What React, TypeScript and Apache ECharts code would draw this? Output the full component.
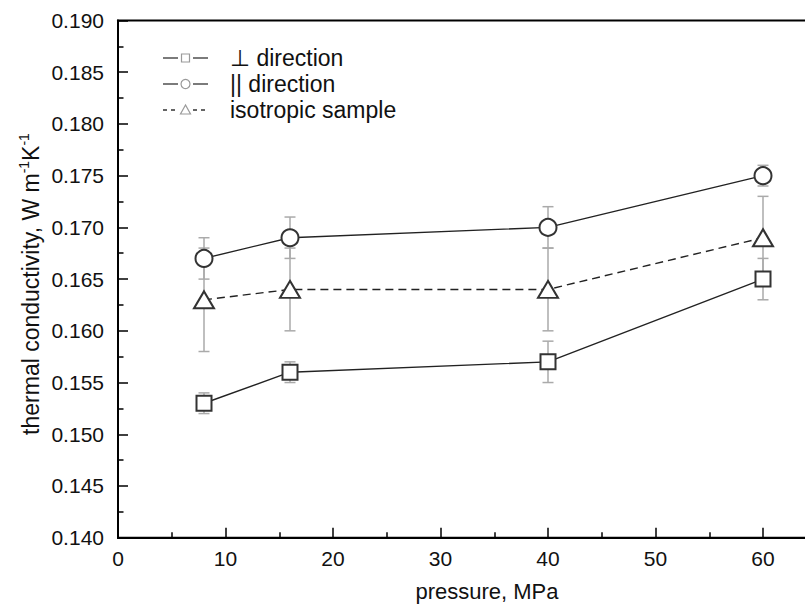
import React, { useEffect, useRef } from "react";
import * as echarts from "echarts";

// Data
const pressure = [8, 16, 40, 60];
const perpValues = [0.153, 0.156, 0.157, 0.165];
const perpErr = [0.001, 0.001, 0.002, 0.002];
const parValues = [0.167, 0.169, 0.17, 0.175];
const parErr = [0.002, 0.002, 0.002, 0.001];
const isoValues = [0.163, 0.164, 0.164, 0.169];
const isoErr = [0.005, 0.004, 0.004, 0.004];
const seriesNames = ["⊥ direction", "|| direction", "isotropic sample"];
const xTitle = "pressure, MPa";

const FONT = "Liberation Sans, Arial, Helvetica, sans-serif";

function pts(vals: number[]) {
  return pressure.map((p, i) => [p, vals[i]]);
}
function errs(vals: number[], e: number[]) {
  return pressure.map((p, i) => [p, vals[i] - e[i], vals[i] + e[i]]);
}

function errorSeries(data: number[][], color: string) {
  return {
    type: "custom",
    z: 1,
    silent: true,
    data,
    encode: { x: 0, y: [1, 2] },
    renderItem: (params: any, api: any) => {
      const x = api.value(0);
      const lo = api.coord([x, api.value(1)]);
      const hi = api.coord([x, api.value(2)]);
      const w = 5.5;
      const style = { stroke: color, lineWidth: 1.5 };
      return {
        type: "group",
        children: [
          { type: "line", shape: { x1: lo[0], y1: lo[1], x2: hi[0], y2: hi[1] }, style },
          { type: "line", shape: { x1: lo[0] - w, y1: lo[1], x2: lo[0] + w, y2: lo[1] }, style },
          { type: "line", shape: { x1: hi[0] - w, y1: hi[1], x2: hi[0] + w, y2: hi[1] }, style },
        ],
      };
    },
  };
}

export default function App() {
  const ref = useRef<HTMLDivElement>(null);
  useEffect(() => {
    if (!ref.current) return;
    const chart = echarts.init(ref.current, undefined, { renderer: "svg" });
    const lineColor = "#222";
    const symColor = "#333";
    const legendSym = "#9a9a9a";
    const rows = [58, 84, 110];
    const legendGraphics: any[] = [];
    rows.forEach((y, i) => {
      const dashed = i === 2;
      const ls: any = { stroke: "#333", lineWidth: 1.3 };
      if (dashed) ls.lineDash = [4, 4];
      legendGraphics.push({ type: "line", shape: { x1: 163, y1: y, x2: 178, y2: y }, style: ls });
      legendGraphics.push({ type: "line", shape: { x1: 193, y1: y, x2: 208, y2: y }, style: ls });
      const ss = { fill: "none", stroke: legendSym, lineWidth: 1.2 };
      if (i === 0) legendGraphics.push({ type: "rect", shape: { x: 181.5, y: y - 4, width: 8, height: 8 }, style: ss });
      if (i === 1) legendGraphics.push({ type: "circle", shape: { cx: 185.5, cy: y, r: 4.5 }, style: ss });
      if (i === 2)
        legendGraphics.push({
          type: "polygon",
          shape: { points: [[185.5, y - 5], [180.5, y + 4], [190.5, y + 4]] },
          style: ss,
        });
      legendGraphics.push({
        type: "text",
        x: 230,
        y,
        style: {
          text: seriesNames[i],
          fontSize: 23,
          fontFamily: FONT,
          fill: "#111",
          verticalAlign: "middle",
          align: "left",
        },
      });
    });

    const lineSeries = (name: string, data: number[][], symbol: string, size: any, dashed: boolean) => ({
      type: "line",
      name,
      z: 3,
      data,
      symbol,
      symbolSize: size,
      showAllSymbol: true,
      itemStyle: { color: symColor, borderWidth: 1.5 },
      lineStyle: { color: lineColor, width: 1.4, type: dashed ? [8, 5] : "solid" },
      emphasis: { disabled: true },
    });

    chart.setOption({
      animation: false,
      backgroundColor: "#fff",
      grid: {
        left: 118,
        top: 20.5,
        right: 9.5,
        bottom: 74.3,
        containLabel: false,
        outerBoundsMode: "none",
        show: true,
        borderColor: "#000",
        borderWidth: 2,
      },
      xAxis: {
        type: "value",
        min: 0,
        max: 70,
        interval: 10,
        axisLine: { show: true, onZero: false, lineStyle: { color: "#000", width: 2 } },
        axisTick: { show: true, inside: true, length: 10, lineStyle: { color: "#000", width: 1.5 } },
        minorTick: { show: true, splitNumber: 2, length: 5.5, lineStyle: { color: "#000", width: 1.5 } },
        splitLine: { show: false },
        axisLabel: {
          margin: 10,
          fontSize: 21,
          fontFamily: FONT,
          color: "#111",
          showMaxLabel: false,
          formatter: (v: number) => (v > 60 ? "" : String(v)),
        },
      },
      yAxis: {
        type: "value",
        min: 0.14,
        max: 0.19,
        interval: 0.005,
        axisLine: { show: true, onZero: false, lineStyle: { color: "#000", width: 2 } },
        axisTick: { show: true, inside: true, length: 10, lineStyle: { color: "#000", width: 1.5 } },
        minorTick: { show: true, splitNumber: 2, length: 5.5, lineStyle: { color: "#000", width: 1.5 } },
        splitLine: { show: false },
        axisLabel: {
          margin: 14,
          fontSize: 21,
          fontFamily: FONT,
          color: "#111",
          formatter: (v: number) => v.toFixed(3),
        },
      },
      graphic: [
        ...legendGraphics,
        {
          type: "text",
          x: 487,
          y: 591,
          style: {
            text: xTitle,
            fontSize: 22,
            fontFamily: FONT,
            fill: "#111",
            align: "center",
            verticalAlign: "middle",
          },
        },
        {
          type: "text",
          x: 31,
          y: 284,
          rotation: Math.PI / 2,
          style: {
            text: "{a|thermal conductivity, W m}{s|-1}{a|K}{s|-1}",
            align: "center",
            verticalAlign: "middle",
            rich: {
              a: { fontSize: 23, fontFamily: FONT, fill: "#111", lineHeight: 28 },
              s: { fontSize: 14, fontFamily: FONT, fill: "#111", lineHeight: 15, verticalAlign: "top" },
            },
          },
        },
      ],
      series: [
        errorSeries(errs(perpValues, perpErr), "#aaa"),
        errorSeries(errs(parValues, parErr), "#aaa"),
        errorSeries(errs(isoValues, isoErr), "#aaa"),
        lineSeries(seriesNames[0], pts(perpValues), "emptyRect", 15, false),
        lineSeries(seriesNames[1], pts(parValues), "emptyCircle", 17, false),
        lineSeries(seriesNames[2], pts(isoValues), "emptyTriangle", [20, 17], true),
      ],
    });
    return () => chart.dispose();
  }, []);
  return (
    <div
      style={{
        position: "fixed",
        left: 0,
        top: 0,
        width: 805,
        height: 612,
        overflow: "hidden",
        background: "#fff",
      }}
    >
      <div ref={ref} style={{ width: 880, height: 612 }} />
    </div>
  );
}
